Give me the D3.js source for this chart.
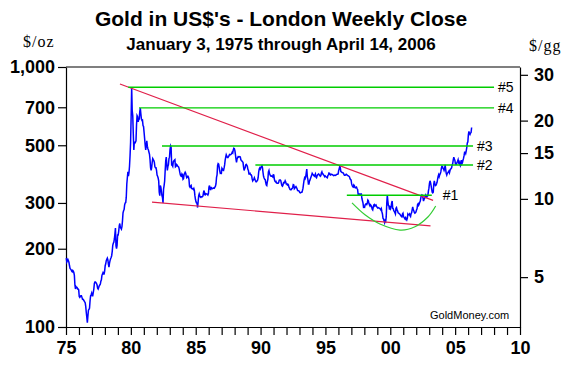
<!DOCTYPE html>
<html><head><meta charset="utf-8">
<script src="https://cdn.jsdelivr.net/npm/d3@7"></script>
<style>
body{margin:0;background:#fff;}
svg{display:block;}
text{font-family:"Liberation Sans",Arial,sans-serif;}
</style></head>
<body><svg id="c" width="572" height="366"></svg>
<script>
// Semi-monthly closes (two per month), US$/oz
const years = [1975,1976,1977,1978,1979,1980,1981,1982,1983,1984,1985,1986,1987,1988,1989,1990,1991,1992,1993,1994,1995,1996,1997,1998,1999,2000,2001,2002,2003,2004,2005,2006];
const prices = [
 [184,178,180,182,180,177,172,168,167,166,164,163,165,164,162,158,145,140,143,142,142,140,140,139],
 [131,130,131,132,132,130,128,128,127,126,125,124,120,114,109,104,110,116,117,118,126,132,133,135],
 [132,132,136,140,147,149,149,148,147,145,141,140,142,144,145,146,150,152,158,160,162,160,160,164],
 [172,175,180,182,184,181,174,170,176,180,183,185,188,195,206,210,212,218,228,240,205,200,206,226],
 [226,233,245,250,242,240,238,243,256,275,280,283,295,300,301,315,355,375,395,380,392,415,456,512],
 [640,835,680,650,553,480,517,510,514,520,600,650,644,615,627,630,674,695,661,630,623,625,595,590],
 [560,530,500,480,499,520,496,485,480,470,461,440,409,400,410,430,444,440,437,430,413,410,410,400],
 [384,380,374,365,330,320,350,345,333,320,315,300,339,350,364,400,436,450,422,400,414,420,444,450],
 [481,497,491,420,419,415,432,435,438,440,413,415,422,420,416,414,412,405,394,385,381,380,388,385],
 [370,372,386,390,394,390,381,375,377,380,377,370,348,345,348,350,341,340,340,338,341,335,320,310],
 [303,300,299,288,304,320,325,320,316,315,317,317,317,320,330,335,323,322,326,325,325,324,322,326],
 [345,350,339,338,346,340,340,342,342,343,342,345,348,355,376,385,418,425,423,410,398,390,391,390],
 [408,405,401,400,409,420,438,450,460,455,449,448,451,455,461,460,460,462,465,470,467,480,487,485],
 [477,460,442,430,443,448,452,450,451,452,451,440,437,435,432,430,413,400,406,410,420,422,419,415],
 [404,400,388,388,390,385,385,382,371,365,368,370,375,370,365,362,362,365,367,375,394,405,409,405],
 [410,415,417,410,393,380,374,370,369,360,352,350,362,370,395,400,389,385,381,380,381,380,378,385],
 [384,370,364,362,363,358,358,357,357,360,367,368,368,365,356,350,348,352,359,358,360,365,361,355],
 [355,352,354,352,345,342,338,337,337,340,341,345,353,352,340,342,345,347,344,340,335,334,334,333],
 [329,328,329,330,330,335,342,355,367,375,372,378,392,405,379,370,355,355,364,368,373,378,383,390],
 [387,385,382,380,384,388,377,375,381,385,386,388,385,383,380,382,391,395,389,388,384,383,379,381],
 [379,378,376,375,382,385,391,390,385,384,387,386,386,385,383,382,383,384,383,384,386,387,387,388],
 [400,405,416,410,396,395,393,392,392,390,385,383,383,385,387,386,383,382,381,380,378,372,369,368],
 [355,350,346,345,352,350,344,343,344,345,341,338,324,325,324,325,323,325,325,312,306,300,289,290],
 [289,295,297,298,296,300,308,306,299,295,292,295,293,290,284,282,289,295,296,292,294,295,291,289],
 [287,288,287,286,286,284,282,285,277,272,262,260,256,252,257,255,265,300,321,305,293,292,283,288],
 [285,290,300,305,286,285,280,278,275,272,286,288,282,280,275,274,273,272,270,268,266,265,272,274],
 [266,264,262,260,263,260,258,262,272,270,270,272,268,266,273,275,283,290,283,280,276,274,275,277],
 [282,285,296,298,294,297,302,305,314,320,322,320,314,305,310,312,319,322,317,316,319,320,333,342],
 [357,365,359,350,340,330,328,330,355,365,356,350,351,355,360,370,379,385,379,385,389,395,407,415],
 [414,408,405,400,406,420,404,390,384,390,392,395,398,392,400,405,406,410,420,425,439,450,442,438],
 [424,422,423,430,434,440,429,432,422,418,431,438,424,428,438,445,456,470,470,465,476,490,510,515],
 [549,565,555,550,557,560,585]
];
// Resistance levels (price, start year, end year)
const levelNames  = ["#1","#2","#3","#4","#5"];
const levelPrices = [321, 420, 497, 696, 836];
const levelStart  = [1996.65, 1989.6, 1982.4, 1980.63, 1979.8];
const levelEnd    = [2003.2, 2006.38, 2006.38, 2008.0, 2008.0];
// Trend lines [year, price]
const upperTrend = [[1979.16, 860], [2003.3, 307]];
const lowerTrend = [[1981.63, 302], [2003.1, 245]];
// Cup (saucer) bottom
const cupPoints = [[1997.05,300],[1998.05,270],[1999.2,249],[2000.75,236],[2001.9,243],[2002.9,265],[2003.5,292]];
const leftTicks  = [100,200,300,500,700,1000];
const rightTicks = [5,10,15,20,30];
const xLabelYears = [1975,1980,1985,1990,1995,2000,2005,2010];
const gramsPerOz = 31.1035;

const svg = d3.select("#c");
const L=66, R=520, T=67, B=327;
const x = d3.scaleLinear().domain([1975,2010]).range([L,R]);
const y = d3.scaleLog().domain([100,1000]).range([B,T]);
const yR = d3.scaleLog().domain([100/gramsPerOz,1000/gramsPerOz]).range([B,T]);

const series = [];
years.forEach((yr,i)=>{
  prices[i].forEach((p,j)=>{
    series.push([yr + (j*0.5+0.25)/12, p]);
  });
});

const bold = "bold 18px 'Liberation Sans', Arial, sans-serif";

const gL = svg.append("g").attr("transform",`translate(${L},0)`)
  .call(d3.axisLeft(y).tickValues(leftTicks).tickSize(8).tickSizeOuter(0).tickPadding(3).tickFormat(d3.format(",")));
const gR = svg.append("g").attr("transform",`translate(${R},0)`)
  .call(d3.axisRight(yR).tickValues(rightTicks).tickSize(8).tickSizeOuter(0).tickPadding(6).tickFormat(d3.format("d")));
const gB = svg.append("g").attr("transform",`translate(0,${B})`)
  .call(d3.axisBottom(x).tickValues(d3.range(1975,2011)).tickSize(8).tickSizeOuter(0).tickPadding(6)
    .tickFormat(d => xLabelYears.includes(d) ? String(d%100).padStart(2,"0") : ""));
[gL,gR,gB].forEach(g=>{
  g.selectAll("path.domain").attr("stroke","#000").attr("stroke-width",1.2);
  g.selectAll("line").attr("stroke","#000").attr("stroke-width",1.2);
  g.selectAll("text").attr("fill","#000").style("font",bold);
});
svg.append("line").attr("x1",L).attr("x2",R).attr("y1",T).attr("y2",T).attr("stroke","#000").attr("stroke-width",1.2);

svg.append("path").datum(series)
  .attr("fill","none").attr("stroke","#0000ff").attr("stroke-width",1.5)
  .attr("d", d3.line().x(d=>x(d[0])).y(d=>y(d[1])));

[upperTrend, lowerTrend].forEach(t=>{
  svg.append("line").attr("x1",x(t[0][0])).attr("y1",y(t[0][1])).attr("x2",x(t[1][0])).attr("y2",y(t[1][1]))
    .attr("stroke","#e0204a").attr("stroke-width",1.2);
});

svg.append("path").datum(cupPoints).attr("fill","none").attr("stroke","#33cc33").attr("stroke-width",1.2)
  .attr("d", d3.line().curve(d3.curveCardinal).x(d=>x(d[0])).y(d=>y(d[1])));

levelPrices.forEach((p,i)=>{
  svg.append("line").attr("x1",x(levelStart[i])).attr("x2",x(levelEnd[i]))
    .attr("y1",y(p)).attr("y2",y(p)).attr("stroke","#00cc00").attr("stroke-width",1.4);
  svg.append("text").attr("x",x(levelEnd[i])+ (i===0?11:4)).attr("y",y(p)+5)
    .attr("font-size",14).attr("fill","#000").text(levelNames[i]);
});

svg.append("text").attr("x",281).attr("y",26).attr("text-anchor","middle")
  .style("font","bold 21px 'Liberation Sans', Arial, sans-serif").text("Gold in US$'s - London Weekly Close");
svg.append("text").attr("x",281).attr("y",50).attr("text-anchor","middle")
  .style("font","bold 17px 'Liberation Sans', Arial, sans-serif").text("January 3, 1975 through April 14, 2006");
svg.append("text").attr("x",23).attr("y",47)
  .style("font","16px 'Liberation Serif', serif").attr("letter-spacing",1).text("$/oz");
svg.append("text").attr("x",529).attr("y",51)
  .style("font","16px 'Liberation Serif', serif").attr("letter-spacing",1).text("$/gg");
svg.append("text").attr("x",430).attr("y",319)
  .style("font","11px 'Liberation Sans', Arial, sans-serif").text("GoldMoney.com");
</script></body></html>
